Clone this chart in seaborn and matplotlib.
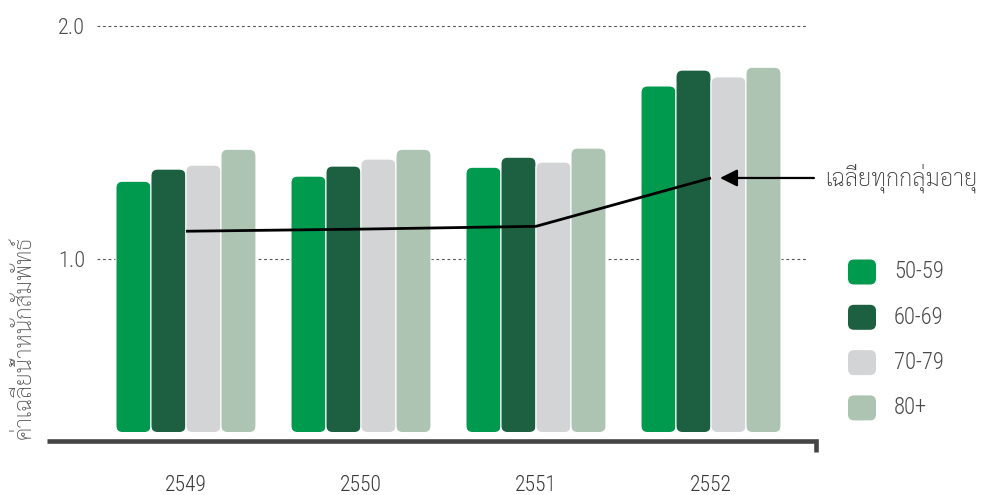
import numpy as np
import pandas as pd
import matplotlib
matplotlib.use("Agg")
import matplotlib.pyplot as plt
from matplotlib.patches import FancyBboxPatch
import seaborn as sns

# ---- data -------------------------------------------------------------
years = ["2549", "2550", "2551", "2552"]
age_groups = ["50-59", "60-69", "70-79", "80+"]
v_50_59 = [1.334, 1.356, 1.394, 1.742]
v_60_69 = [1.386, 1.399, 1.437, 1.810]
v_70_79 = [1.403, 1.429, 1.416, 1.781]
v_80_plus = [1.471, 1.471, 1.476, 1.822]
avg_all_ages = [1.120, 1.129, 1.141, 1.348]
y_ticks = [1.0, 2.0]
y_tick_labels = ["1.0", "2.0"]

ylabel_text = "ค่าเฉลี่ยน้ำหนักสัมพัทธ์"
avg_label = "เฉลี่ยทุกกลุ่มอายุ"

palette = ["#009A4E", "#1D6041", "#D3D4D6", "#AEC4B3"]

# ---- style ------------------------------------------------------------
sns.set_style("white")
THAI = ["Sarabun", "Noto Sans Thai", "Anuphan", "DejaVu Sans"]
NUM = ["Roboto Condensed", "Archivo Narrow", "DejaVu Sans"]
plt.rcParams["font.family"] = NUM

df = pd.DataFrame({
    "year": np.repeat(years, len(age_groups)),
    "age": age_groups * len(years),
    "value": np.column_stack([v_50_59, v_60_69, v_70_79, v_80_plus]).ravel(),
})

W, H = 984, 495
fig = plt.figure(figsize=(W / 100, H / 100), dpi=100)
ax = fig.add_axes([47 / W, 54.5 / H, 769 / W, 440.5 / H])

sns.barplot(data=df, x="year", y="value", hue="age", order=years,
            hue_order=age_groups, palette=palette, saturation=1,
            width=0.8, legend=False, ax=ax)

ax.set_xlim(-0.794, 3.6)
ax.set_ylim(0.224, 2.110)

# rounded bars: rebuild each seaborn bar as a rounded box
base = 0.258
p0 = ax.transData.transform((0, 0))
px_x = ax.transData.transform((1, 0))[0] - p0[0]
px_y = ax.transData.transform((0, 1))[1] - p0[1]
r_px = 6.5
for bar in list(ax.patches):
    x, w, h = bar.get_x(), bar.get_width(), bar.get_height()
    fc = bar.get_facecolor()
    box = FancyBboxPatch((x, base), w, h - base,
                         boxstyle=f"round,pad=0,rounding_size={r_px / px_x}",
                         mutation_aspect=px_x / px_y,
                         facecolor=fc, edgecolor="white", linewidth=0.8,
                         zorder=2)
    bar.remove()
    ax.add_patch(box)

# average across all age groups
xpos = np.arange(len(years))
ax.plot(xpos, avg_all_ages, color="black", lw=2.0, zorder=4,
        solid_capstyle="butt")

ax.annotate(avg_label, xy=(xpos[-1], avg_all_ages[-1]),
            xytext=(82, 0), textcoords="offset points",
            ha="left", va="center", fontsize=17, color="#333333",
            family=THAI, fontweight="light",
            arrowprops=dict(arrowstyle="-|>", color="black", lw=1.6,
                            mutation_scale=26, relpos=(0, 0.5),
                            shrinkA=5.5, shrinkB=6.5),
            annotation_clip=False, zorder=5)

# dotted reference lines
for yt in y_ticks:
    ax.axhline(yt, xmin=0.065, xmax=0.99, color="#555555", lw=0.8,
               ls=(0, (2.5, 2.5)), zorder=1)

# axes and ticks
for s in ["top", "right", "left", "bottom"]:
    ax.spines[s].set_visible(False)
ax.plot([0, 1, 1], [0, 0, -11.5 / 440.5], transform=ax.transAxes,
        color="#444444", lw=3.3, clip_on=False, solid_joinstyle="miter",
        solid_capstyle="butt", zorder=3)

ax.set_yticks(y_ticks)
ax.set_yticklabels(y_tick_labels, fontsize=16, color="#4a4a4a",
                   fontweight="light", family=NUM)
ax.tick_params(axis="y", length=0, pad=-27.5)
ax.set_xticks(xpos)
ax.set_xticklabels(years, fontsize=15.5, color="#3a3a3a",
                   fontweight="light", family=NUM)
ax.tick_params(axis="x", length=0, pad=25)
ax.set_xlabel("")
ax.set_ylabel("")
ax.grid(False)

# overlay in pixel units for the legend and the axis title
ov = fig.add_axes([0, 0, 1, 1], zorder=-1)
ov.set_xlim(0, W)
ov.set_ylim(H, 0)
ov.axis("off")

ov.text(24, 338, ylabel_text, rotation=90, ha="center", va="center",
        fontsize=16.5, color="#555555", family=THAI, fontweight="light")

for i, (label, col) in enumerate(zip(age_groups, palette)):
    yc = 272 + i * 45.3
    ov.add_patch(FancyBboxPatch((848, yc - 12.5), 28, 25,
                                boxstyle="round,pad=0,rounding_size=6",
                                facecolor=col, edgecolor="none"))
    ov.text(894, yc, label, ha="left", va="center", fontsize=16.3,
            color="#4a4a4a", family=NUM, fontweight="light")

fig.savefig("out.png", dpi=100)
